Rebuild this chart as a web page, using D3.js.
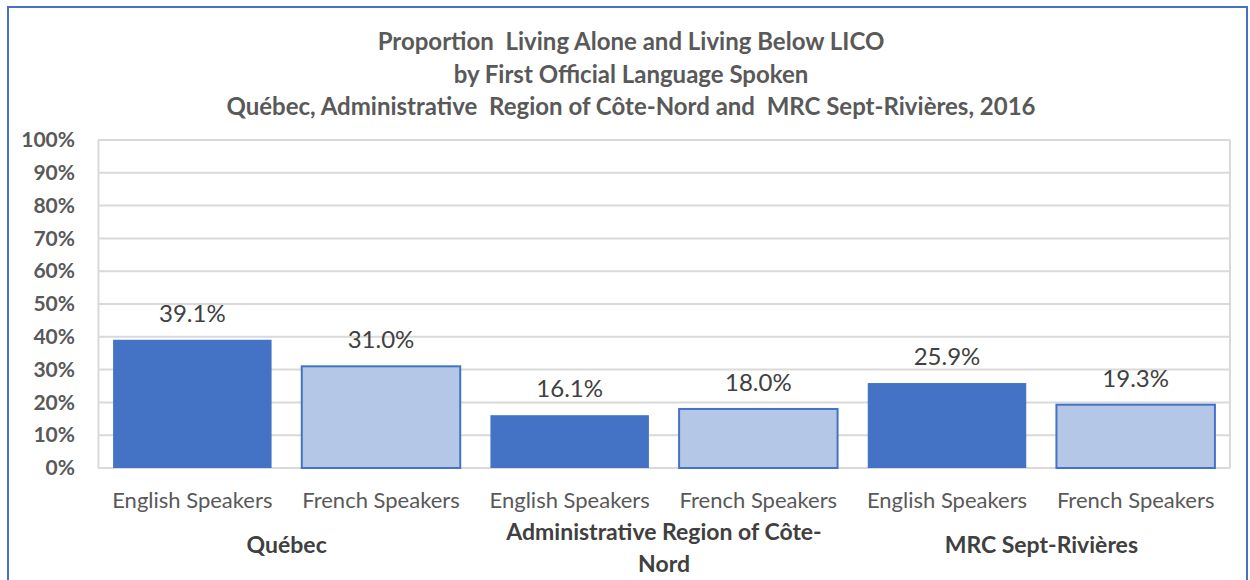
<!DOCTYPE html>
<html>
<head>
<meta charset="utf-8">
<script src="https://cdn.jsdelivr.net/npm/d3@7"></script>
<style>
  body { margin: 0; background: #fff; }
  text { font-family: Lato, "Open Sans", sans-serif; }
</style>
</head>
<body>
<div id="svg"></div>
<script>
var titleLines = ["Proportion  Living Alone and Living Below LICO",
                  "by First Official Language Spoken",
                  "Québec, Administrative  Region of Côte-Nord and  MRC Sept-Rivières, 2016"];
var groups = ["Québec", "Administrative  Region of Côte-Nord", "MRC Sept-Rivières"];
var speakers = ["English Speakers", "French Speakers"];
var values = [[39.1, 31.0], [16.1, 18.0], [25.9, 19.3]];
var yTicks = [0, 10, 20, 30, 40, 50, 60, 70, 80, 90, 100];

var W = 1250, H = 580;
var margin = {top: 140, right: 20, bottom: 112, left: 98},
    width = 1230 - margin.left,
    height = 468 - margin.top;

var svg = d3.select("#svg").append("svg")
    .attr("width", W).attr("height", H);

// outer chart border
svg.append("rect")
  .attr("x", 8).attr("y", 7)
  .attr("width", 1239).attr("height", 620)
  .style("fill", "none").style("stroke", "#4472C4").style("stroke-width", 2);

// titles
svg.selectAll(".title")
  .data(titleLines)
  .enter().append("text")
    .attr("x", 631)
    .attr("y", function (d, i) { return 50 + i * 32.5; })
    .attr("text-anchor", "middle")
    .style("font-size", "24px")
    .style("font-weight", "bold")
    .style("fill", "#595959")
    .style("white-space", "pre")
    .text(function (d) { return d; });

var g = svg.append("g")
    .attr("transform", "translate(" + margin.left + "," + margin.top + ")");

// flatten data
var data = [];
groups.forEach(function (grp, gi) {
  speakers.forEach(function (sp, si) {
    data.push({group: grp, gi: gi, speaker: sp, si: si, value: values[gi][si], key: gi + "-" + si});
  });
});

var x = d3.scaleBand()
  .domain(data.map(function (d) { return d.key; }))
  .range([0, width])
  .paddingInner(0.16)
  .paddingOuter(0.08);

var xg = d3.scaleBand()
  .domain(groups)
  .range([0, width]);

var y = d3.scaleLinear()
  .domain([0, 100])
  .range([height, 0]);

// gridlines
g.append("g")
  .selectAll("line")
  .data(yTicks)
  .enter().append("line")
    .attr("x1", 0).attr("x2", width)
    .attr("y1", function (d) { return y(d); })
    .attr("y2", function (d) { return y(d); })
    .style("stroke", "#D9D9D9").style("stroke-width", 2);

// y axis
var yAxis = g.append("g")
  .call(d3.axisLeft(y).tickValues(yTicks).tickSize(0).tickPadding(23)
    .tickFormat(function (d) { return d + "%"; }));
yAxis.select(".domain").style("stroke", "#D9D9D9").style("stroke-width", 2);
yAxis.selectAll("text")
  .style("font-family", "Lato, 'Open Sans', sans-serif")
  .style("font-size", "21px")
  .style("font-weight", "bold")
  .style("fill", "#595959");

// right border of plot
g.append("line")
  .attr("x1", width).attr("x2", width)
  .attr("y1", 0).attr("y2", height)
  .style("stroke", "#D9D9D9").style("stroke-width", 2);

// bars
g.selectAll(".bar")
  .data(data)
  .enter().append("rect")
    .attr("x", function (d) { return x(d.key); })
    .attr("y", function (d) { return y(d.value); })
    .attr("width", x.bandwidth())
    .attr("height", function (d) { return height - y(d.value); })
    .style("fill", function (d) { return d.si === 0 ? "#4472C4" : "#B4C7E7"; })
    .style("stroke", "#4472C4")
    .style("stroke-width", function (d) { return d.si === 0 ? 0 : 2; });

// data labels
g.selectAll(".lbl")
  .data(data)
  .enter().append("text")
    .attr("x", function (d) { return x(d.key) + x.bandwidth() / 2; })
    .attr("y", function (d) { return y(d.value) - 18; })
    .attr("text-anchor", "middle")
    .style("font-size", "24px")
    .style("fill", "#404040")
    .text(function (d) { return d.value.toFixed(1) + "%"; });

// category labels
g.selectAll(".cat")
  .data(data)
  .enter().append("text")
    .attr("x", function (d) { return x(d.key) + x.bandwidth() / 2; })
    .attr("y", height + 40)
    .attr("text-anchor", "middle")
    .style("font-size", "22px")
    .style("fill", "#595959")
    .text(function (d) { return d.speaker; });

// group labels, wrapped to the group width
function wrapWords(s, maxW, probe) {
  var parts = s.replace(/-/g, "-\u0001").split(/\u0001| /);
  var lines = [], cur = "";
  parts.forEach(function (p) {
    if (p === "") return;
    var sep = (cur === "" || cur.slice(-1) === "-") ? "" : " ";
    var test = cur + sep + p;
    probe.text(test);
    if (cur !== "" && probe.node().getComputedTextLength() > maxW) {
      lines.push(cur);
      cur = p;
    } else {
      cur = test;
    }
  });
  if (cur) lines.push(cur);
  return lines;
}

groups.forEach(function (grp) {
  var t = g.append("text")
    .attr("x", xg(grp) + xg.bandwidth() / 2)
    .attr("y", height + 85)
    .attr("text-anchor", "middle")
    .style("font-size", "23px")
    .style("font-weight", "bold")
    .style("fill", "#404040");
  var lines = wrapWords(grp, xg.bandwidth() - 30, t);
  t.text(null);
  lines.forEach(function (ln, i) {
    t.append("tspan")
      .attr("x", xg(grp) + xg.bandwidth() / 2)
      .attr("y", height + (lines.length > 1 ? 72 : 85) + i * 32)
      .text(ln);
  });
});
</script>
</body>
</html>
